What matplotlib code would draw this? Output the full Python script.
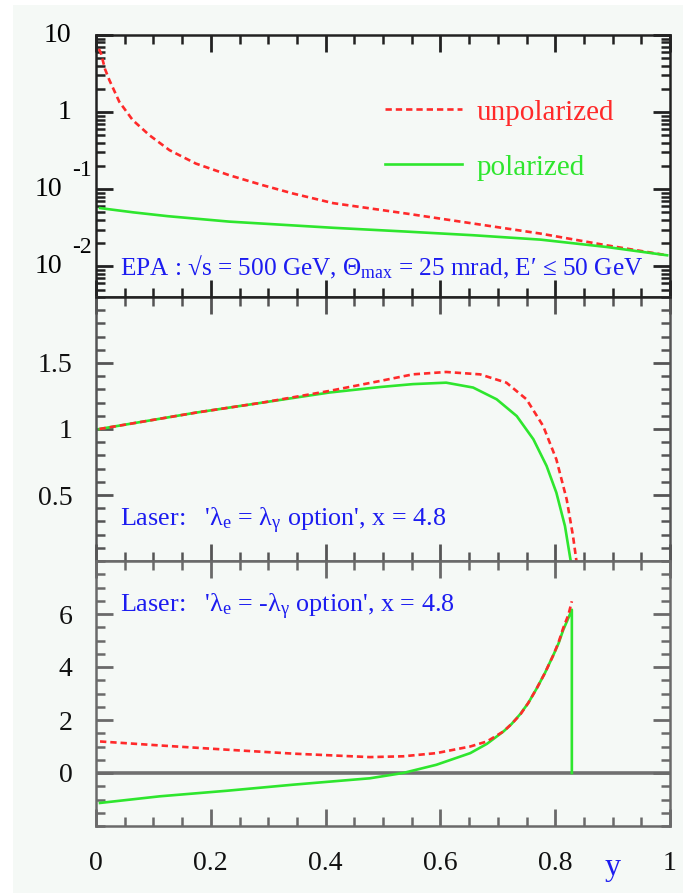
import matplotlib
matplotlib.use('Agg')
import matplotlib.pyplot as plt
from matplotlib.ticker import MultipleLocator, FixedLocator, LogLocator, NullFormatter, FuncFormatter
from matplotlib.patches import Rectangle

######################################
# values
######################################

# EPA panel (log scale)
epa_y_unpol = [0.005, 0.0087, 0.0156, 0.0232, 0.0406, 0.064, 0.093, 0.128, 0.174, 0.232,
               0.290, 0.343, 0.413, 0.541, 0.657, 0.774, 0.89, 0.995]
epa_unpol = [6.6, 5.78, 3.63, 2.61, 1.36, 0.787, 0.502, 0.321, 0.215, 0.152,
             0.113, 0.088, 0.066, 0.0483, 0.0359, 0.0266, 0.0187, 0.0139]
epa_y_pol = [0.007, 0.065, 0.125, 0.232, 0.413, 0.541, 0.657, 0.774, 0.89, 0.995]
epa_pol = [0.0569, 0.0501, 0.0447, 0.038, 0.0316, 0.0282, 0.0253, 0.0222, 0.0178, 0.0139]

# laser, lambda_e = lambda_gamma
las1_y_unpol = [0.006, 0.174, 0.29, 0.406, 0.495, 0.552, 0.610, 0.669, 0.715, 0.75,
                0.779, 0.802, 0.820, 0.831, 0.837]
las1_unpol = [1.0, 1.124, 1.2, 1.288, 1.364, 1.414, 1.432, 1.414, 1.351, 1.225,
              1.023, 0.77, 0.467, 0.19, 0.0]
las1_y_pol = [0.006, 0.174, 0.29, 0.406, 0.495, 0.552, 0.610, 0.657, 0.698, 0.733,
              0.762, 0.785, 0.802, 0.817, 0.827]
las1_pol = [1.0, 1.124, 1.2, 1.276, 1.318, 1.340, 1.351, 1.314, 1.225, 1.098,
            0.922, 0.72, 0.518, 0.265, 0.0]

# laser, lambda_e = -lambda_gamma
las2_y_unpol = [0.007, 0.111, 0.228, 0.344, 0.477, 0.535, 0.593, 0.652, 0.681, 0.71,
                0.724, 0.739, 0.753, 0.768, 0.782, 0.797, 0.806, 0.814, 0.823, 0.829]
las2_unpol = [1.19, 1.04, 0.88, 0.73, 0.60, 0.63, 0.75, 1.0, 1.19, 1.57,
              1.85, 2.2, 2.64, 3.2, 3.77, 4.46, 4.94, 5.47, 5.97, 6.48]
las2_y_pol = [0.007, 0.111, 0.228, 0.344, 0.477, 0.535, 0.593, 0.652, 0.681, 0.71,
              0.724, 0.739, 0.753, 0.768, 0.782, 0.797, 0.806, 0.814, 0.823, 0.829, 0.829]
las2_pol = [-1.13, -0.88, -0.67, -0.44, -0.2, 0.0, 0.31, 0.75, 1.1, 1.57,
            1.85, 2.22, 2.64, 3.2, 3.77, 4.46, 4.9, 5.4, 5.85, 6.16, 0.0]

xtick_vals = [0, 0.2, 0.4, 0.6, 0.8, 1.0]
log_ticks = [1e-2, 1e-1, 1, 10]
log_base = ['10', '10', '1', '10']
log_exp = ['-2', '-1', '', '']

######################################

fts = 20
plt.rcParams['font.family'] = 'Liberation Serif'
plt.rcParams['font.size'] = fts
plt.rcParams['mathtext.fontset'] = 'custom'
plt.rcParams['mathtext.rm'] = 'Liberation Serif'
plt.rcParams['mathtext.it'] = 'Liberation Serif:italic'
plt.rcParams['mathtext.bf'] = 'Liberation Serif:bold'

red = '#ff2a2a'
green = '#2ee62e'
blue = '#1c1cf0'
bg = '#f5f9f6'
dash = (2.4, 1.5)

fig = plt.figure(figsize=(6.83, 8.93), dpi=100)
fig.patch.set_facecolor('white')
fig.add_artist(Rectangle((13/683., 0), 1, 1 - 5/893., transform=fig.transFigure,
                         facecolor=bg, edgecolor='none', zorder=-10))

L = 96/683.
W = 574/683.
ax1 = fig.add_axes([L, 1 - 297/893., W, 262/893.])
ax2 = fig.add_axes([L, 1 - 561/893., W, 264/893.])
ax3 = fig.add_axes([L, 1 - 826/893., W, 265/893.])


def formax(ax, col):
    ax.set_facecolor(bg)
    for s in ax.spines.values():
        s.set_color(col)
        s.set_linewidth(1.8)
    ax.tick_params(which='both', direction='in', top=True, right=True, color=col,
                   labelcolor='#111111', labelsize=fts)
    ax.tick_params(which='major', length=12, width=2.0, pad=17)
    ax.tick_params(which='minor', length=6.5, width=1.8)
    ax.set_xlim(0, 1)
    ax.xaxis.set_major_locator(FixedLocator(xtick_vals))
    ax.xaxis.set_minor_locator(MultipleLocator(0.05))


for ax, col in [(ax1, '#222222'), (ax2, '#555555'), (ax3, '#6a6a6a')]:
    formax(ax, col)
ax2.spines['top'].set_color('#222222')

# ---- top: EPA ----
ax1.set_yscale('log')
ax1.set_ylim(4e-3, 10)
ax1.yaxis.set_major_locator(FixedLocator(log_ticks))
ax1.yaxis.set_minor_locator(LogLocator(base=10, subs=range(2, 10), numticks=20))
ax1.yaxis.set_major_formatter(NullFormatter())
ax1.yaxis.set_minor_formatter(NullFormatter())
ax1.xaxis.set_major_formatter(NullFormatter())
l1, = ax1.plot(epa_y_unpol, epa_unpol, color=red, lw=1.9, dashes=dash, label='unpolarized')
l2, = ax1.plot(epa_y_pol, epa_pol, color=green, lw=1.9, label='polarized')
for v, b, e in zip(log_ticks, log_base, log_exp):
    off = -24.5 if e else -18
    ax1.annotate(b, xy=(0, v), xycoords=('axes fraction', 'data'), xytext=(off, 0),
                 textcoords='offset points', ha='right', va='center', fontsize=fts)
    if e:
        ax1.annotate(e, xy=(0, v), xycoords=('axes fraction', 'data'), xytext=(-17.5, 13.5),
                     textcoords='offset points', ha='left', va='center', fontsize=fts - 3)
leg = ax1.legend(handles=[l1, l2], loc='upper left', bbox_to_anchor=(0.503, 0.755),
                 frameon=False, handlelength=2.65, handletextpad=0.5, labelspacing=0.98,
                 borderpad=0, borderaxespad=0, fontsize=fts + 1)
for t, c in zip(leg.get_texts(), [red, green]):
    t.set_color(c)
ax1.text(0.042, 0.112, "EPA : \u221as = 500 GeV, \u0398$_{\\mathrm{max}}$ = 25 mrad, E\u2032 \u2264 50 GeV",
         transform=ax1.transAxes, color=blue, fontsize=18.2, va='center', ha='left')

# ---- middle: laser, same helicity ----
ax2.set_ylim(0, 2)
ax2.yaxis.set_major_locator(FixedLocator([0.5, 1.0, 1.5]))
ax2.yaxis.set_major_formatter(FuncFormatter(lambda v, p: '%g' % v))
ax2.yaxis.set_minor_locator(MultipleLocator(0.1))
ax2.xaxis.set_major_formatter(NullFormatter())
ax2.plot(las1_y_pol, las1_pol, color=green, lw=1.9)
ax2.plot(las1_y_unpol, las1_unpol, color=red, lw=1.9, dashes=dash)
ax2.text(0.042, 0.152, "Laser:   '\u03bb$_{\\mathrm{e}}$ = \u03bb$_{\\mathrm{\u03b3}}$ option', x = 4.8",
         transform=ax2.transAxes, color=blue, fontsize=18.8, va='center', ha='left')

# ---- bottom: laser, opposite helicity ----
ax3.set_ylim(-2, 8)
ax3.yaxis.set_major_locator(FixedLocator([0, 2, 4, 6]))
ax3.yaxis.set_major_formatter(FuncFormatter(lambda v, p: '%g' % v))
ax3.yaxis.set_minor_locator(MultipleLocator(0.5))
ax3.xaxis.set_major_formatter(FuncFormatter(lambda v, p: '%g' % v))
ax3.tick_params(axis='x', which='major', pad=18)
ax3.axhline(0, color='#707070', lw=2.6, zorder=1)
ax3.plot(las2_y_pol, las2_pol, color=green, lw=1.9, zorder=3)
ax3.plot(las2_y_unpol, las2_unpol, color=red, lw=1.9, dashes=dash, zorder=4)
ax3.text(0.042, 0.825, "Laser:   '\u03bb$_{\\mathrm{e}}$ = -\u03bb$_{\\mathrm{\u03b3}}$ option', x = 4.8",
         transform=ax3.transAxes, color=blue, fontsize=18.8, va='center', ha='left')
ax3.text(0.9, -0.185, 'y', transform=ax3.get_xaxis_transform(), color=blue,
         fontsize=fts + 3, ha='center', va='baseline')

fig.savefig('out.png', dpi=100, facecolor=fig.get_facecolor())
